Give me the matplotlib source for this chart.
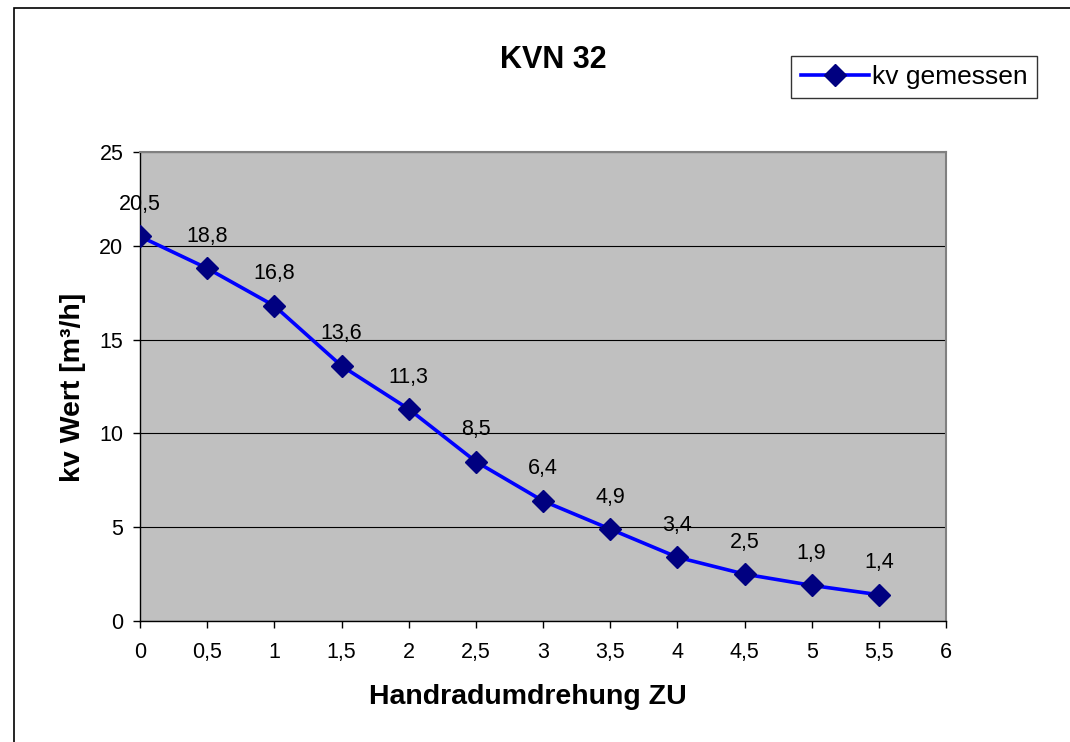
import matplotlib.pyplot as plt
from matplotlib.patches import Rectangle

plt.rcParams['font.family'] = ['Liberation Sans', 'DejaVu Sans']

# Daten
umdrehung = [0, 0.5, 1, 1.5, 2, 2.5, 3, 3.5, 4, 4.5, 5, 5.5]
kv_werte = [20.5, 18.8, 16.8, 13.6, 11.3, 8.5, 6.4, 4.9, 3.4, 2.5, 1.9, 1.4]
x_ticks = [0, 0.5, 1, 1.5, 2, 2.5, 3, 3.5, 4, 4.5, 5, 5.5, 6]
y_ticks = [0, 5, 10, 15, 20, 25]


def de(v):
    # Dezimalkomma
    return f'{v:g}'.replace('.', ',')


fig = plt.figure(figsize=(10.7, 7.42), dpi=100)
# Rahmen um das Diagramm
fig.patches.append(Rectangle((14 / 1070, -0.1), 1.2, 1 - 8 / 742 + 0.1,
                             transform=fig.transFigure, fill=False,
                             edgecolor='black', linewidth=1.2))

ax = fig.add_axes([140 / 1070, 1 - 621 / 742, (946 - 140) / 1070, (621 - 152) / 742])
ax.set_facecolor('#C0C0C0')

ax.plot(umdrehung, kv_werte, color='#0000FF', linewidth=2.6,
        marker='D', markersize=11, markerfacecolor='#000080',
        markeredgecolor='#000080', label='kv gemessen', zorder=3)

for x, y in zip(umdrehung, kv_werte):
    ax.annotate(de(y), (x, y), xytext=(0, 23), textcoords='offset points',
                ha='center', va='center', fontsize=15.5)

ax.set_xlim(0, 6)
ax.set_ylim(0, 25)
ax.set_xticks(x_ticks)
ax.set_xticklabels([de(t) for t in x_ticks])
ax.set_yticks(y_ticks)
ax.set_yticklabels([str(t) for t in y_ticks])
ax.tick_params(axis='x', direction='out', length=5, width=1, pad=10, labelsize=15.5)
ax.tick_params(axis='y', direction='out', length=5, width=1, pad=7, labelsize=15.5)

ax.yaxis.grid(True, color='black', linewidth=0.8)
ax.set_axisbelow(True)
for side in ['top', 'right']:
    ax.spines[side].set_color('#808080')
    ax.spines[side].set_linewidth(1.5)
for side in ['left', 'bottom']:
    ax.spines[side].set_color('black')
    ax.spines[side].set_linewidth(1)

fig.text(553 / 1070, 1 - 60 / 742, 'KVN 32', ha='center', va='center',
         fontsize=22, fontweight='bold')
fig.text(528 / 1070, 1 - 697 / 742, 'Handradumdrehung ZU', ha='center', va='center',
         fontsize=20.5, fontweight='bold')
fig.text(73 / 1070, 1 - 387 / 742, 'kv Wert [m³/h]', ha='center', va='center',
         rotation=90, fontsize=20.5, fontweight='bold')

leg = fig.legend(loc='center', bbox_to_anchor=(914 / 1070, 1 - 77 / 742),
                 fontsize=19, frameon=True, fancybox=False, handlelength=2.6,
                 handletextpad=0.1, borderpad=0.35, borderaxespad=0)
leg.get_frame().set_edgecolor('black')
leg.get_frame().set_linewidth(1)

fig.savefig('out.png', dpi=100)
